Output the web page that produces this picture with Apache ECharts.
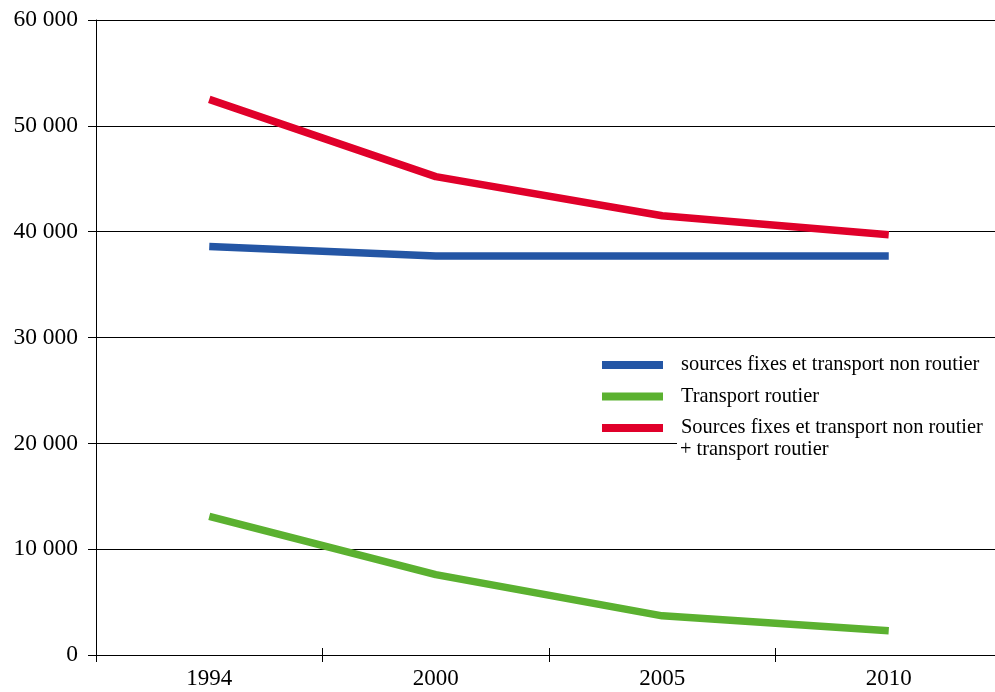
<!DOCTYPE html>
<html>
<head>
<meta charset="utf-8">
<script src="https://cdn.jsdelivr.net/npm/echarts@6/dist/echarts.min.js"></script>
<style>
html,body{margin:0;padding:0;background:#fff;overflow:hidden;width:995px;height:692px;}
#chart{width:1003px;height:692px;}
</style>
</head>
<body>
<div id="chart"></div>
<script>
const categories = ['1994', '2000', '2005', '2010'];
const fixedSources = [38600, 37700, 37700, 37700];
const roadTransport = [13100, 7600, 3700, 2300];
const totalEmissions = [52500, 45200, 41500, 39700];
const seriesNames = [
  'sources fixes et transport non routier',
  'Transport routier',
  'Sources fixes et transport non routier + transport routier'
];
const yTicks = { min: 0, max: 60000, interval: 10000 };

const FONT = '"Liberation Serif", "Times New Roman", serif';
const chart = echarts.init(document.getElementById('chart'), null, { renderer: 'canvas' });

function fmt(v) {
  return String(v).replace(/\B(?=(\d{3})+(?!\d))/g, ' ');
}

const gridRect = { left: 96, top: 20, right: 1, height: 635, containLabel: false };

const option = {
  backgroundColor: '#fff',
  animation: false,
  grid: [Object.assign({}, gridRect), Object.assign({}, gridRect)],
  xAxis: [
    {
      type: 'category',
      gridIndex: 0,
      data: categories,
      position: 'bottom',
      boundaryGap: true,
      axisLine: { show: true, lineStyle: { color: '#000', width: 1 } },
      axisTick: { show: true, inside: false, length: 7, lineStyle: { color: '#000', width: 1 } },
      axisLabel: { color: '#000', fontFamily: FONT, fontSize: 23, margin: 12 },
      splitLine: { show: false }
    },
    {
      type: 'category',
      gridIndex: 1,
      data: categories,
      position: 'bottom',
      boundaryGap: true,
      axisLine: { show: true, lineStyle: { color: '#000', width: 1 } },
      axisTick: { show: true, inside: true, length: 7, lineStyle: { color: '#000', width: 1 } },
      axisLabel: { show: false },
      splitLine: { show: false }
    }
  ],
  yAxis: [
    {
      type: 'value',
      gridIndex: 0,
      min: yTicks.min,
      max: yTicks.max,
      interval: yTicks.interval,
      axisLine: { show: true, lineStyle: { color: '#000', width: 1 } },
      axisTick: { show: true, inside: false, length: 8, lineStyle: { color: '#000', width: 1 } },
      axisLabel: { color: '#000', fontFamily: FONT, fontSize: 23.5, margin: 18, formatter: fmt },
      splitLine: { show: true, lineStyle: { color: '#000', width: 1 } }
    },
    {
      type: 'value',
      gridIndex: 1,
      min: yTicks.min,
      max: yTicks.max,
      interval: yTicks.interval,
      show: false
    }
  ],
  legend: {
    orient: 'vertical',
    left: 602,
    top: 355,
    padding: 0,
    itemWidth: 61,
    itemHeight: 8,
    itemGap: 11.5,
    icon: 'rect',
    data: seriesNames,
    formatter: function (name) { return name.split(' + ')[0]; },
    textStyle: { color: '#000', fontFamily: FONT, fontSize: 20.4, lineHeight: 20, padding: [0, 0, 0, 13] }
  },
  graphic: [
    {
      type: 'rect',
      z: 3,
      shape: { x: 677, y: 346, width: 330, height: 117 },
      style: { fill: '#fff' }
    },
    {
      type: 'text',
      z: 5,
      left: 680,
      top: 440,
      style: { text: '+ transport routier', fill: '#000', font: '20.4px ' + FONT }
    }
  ],
  series: [
    {
      name: seriesNames[0],
      type: 'line',
      data: fixedSources,
      symbol: 'none',
      color: '#2456a5',
      lineStyle: { width: 7.5, color: '#2456a5', cap: 'butt' }
    },
    {
      name: seriesNames[1],
      type: 'line',
      data: roadTransport,
      symbol: 'none',
      color: '#5bb130',
      lineStyle: { width: 7.5, color: '#5bb130', cap: 'butt' }
    },
    {
      name: seriesNames[2],
      type: 'line',
      data: totalEmissions,
      symbol: 'none',
      color: '#e0002a',
      lineStyle: { width: 7.5, color: '#e0002a', cap: 'butt' }
    }
  ]
};
chart.setOption(option);
</script>
</body>
</html>
